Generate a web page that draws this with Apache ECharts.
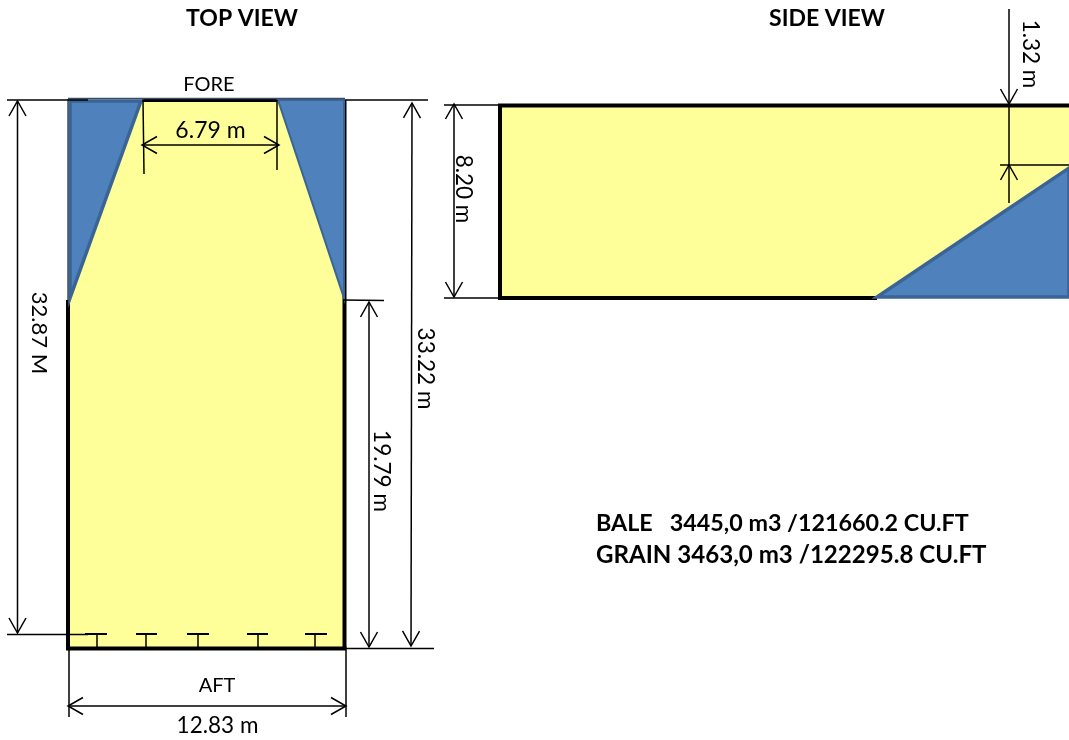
<!DOCTYPE html>
<html>
<head>
<meta charset="utf-8">
<style>html,body{margin:0;padding:0;background:#fff}#c{width:1069px;height:740px}</style>
<script src="https://cdn.jsdelivr.net/npm/echarts@6/dist/echarts.min.js"></script>
</head>
<body>
<div id="c"></div>
<script>
// Plan geometry, in drawing units
const yellowAreas = [
  [[68,100],[345,100],[345,648],[68,648]],
  [[500,106],[1069,106],[1069,298],[500,298]]
];
const blueWedgesThick = [
  [[70,101],[141,101],[70,298]],
  [[877,297],[1069,168],[1069,297]]
];
const blueWedgesThin = [
  [[278,100],[344,100],[344,298]]
];
const heavyLines = [
  [68,300,68,650],[344.5,100,344.5,650],[142,100,277,100],[66,648.5,346.5,648.5],
  [498,105.5,1069,105.5],[500,104,500,300],[498,298,877,298]
];
const wallLines = [[68,98.5,345,98.5],[68,99,68,300]];
const thinLines = [
  [7,100,88,100],[345,100,428,100],[7,634.5,88,634.5],[345,648.5,434,648.5],
  [343,300,384,300.5],[143,100,144,174],[277,100,277,170],[69,650,69,717],[346,650,346,717],
  [444,105,499,105],[444,298,499,298],[1000,165,1069,165],
  [97,634,97,648],[146,634,146,648],[198,634,198,648],[258,634,258,648],[315,634,315,648]
];
const flangeLines = [[85,634,107,634],[136,634,157,634],[187,634,209,634],[247,634,268,634],[305,634,327,634]];
// dimension lines: x1,y1,x2,y2, arrow at start (0/1), arrow at end (0/1)
const dimensions = [
  [17.5,101,17.5,633,1,1],[412,103,411,646,1,1],[369,302,369,647,1,1],
  [142,145,279,145,1,1],[68,706,346,706,1,1],[454,104,454,297,1,1],
  [1009,9,1009,104,0,1],[1009,203,1009,165,0,1],[1009,104,1009,165,0,0]
];
// text, x, y, rotated, bold, size, align
const labels = [
  ['TOP VIEW',242,19,0,1,23,'center'],['SIDE VIEW',827,19,0,1,23,'center'],
  ['FORE',209,85,0,0,20,'center'],['6.79 m',210.5,131,0,0,23,'center'],
  ['AFT',217,686,0,0,20,'center'],['12.83 m',217.5,726,0,0,22.5,'center'],
  ['32.87 M',39,333,1,0,22,'center'],['33.22 m',425,368.5,1,0,22.5,'center'],
  ['19.79 m',381,471,1,0,22.5,'center'],['8.20 m',463,189,1,0,22.5,'center'],['1.32 m',1030,54,1,0,22.5,'center'],
  ['BALE   3445,0 m3 /121660.2 CU.FT',596,523,0,1,23.3,'left'],
  ['GRAIN 3463,0 m3 /122295.8 CU.FT',596,555,0,1,24.1,'left']
];

const FONT = 'Lato, "Noto Sans", sans-serif';
function polySeries(name, data, fill, stroke, width, z){
  return {type:'custom',name,coordinateSystem:'cartesian2d',silent:true,z,clip:true,
    data:data.map((p,i)=>[i]),
    renderItem(params,api){
      const pts=data[api.value(0)].map(p=>api.coord(p));
      return {type:'polygon',shape:{points:pts},style:{fill,stroke,lineWidth:width,lineJoin:'miter'}};
    }};
}
function lineSeries(name,data,color,width,z){
  return {type:'custom',name,coordinateSystem:'cartesian2d',silent:true,z,clip:true,
    data:data,
    renderItem(params,api){
      const a=api.coord([api.value(0),api.value(1)]),b=api.coord([api.value(2),api.value(3)]);
      return {type:'line',shape:{x1:a[0],y1:a[1],x2:b[0],y2:b[1]},style:{stroke:color,lineWidth:width,lineCap:'butt'}};
    }};
}
function head(tip,from){
  const dx=tip[0]-from[0],dy=tip[1]-from[1],l=Math.hypot(dx,dy)||1,ux=dx/l,uy=dy/l,L=15,W=8.5;
  return {type:'polyline',shape:{points:[[tip[0]-ux*L-uy*W,tip[1]-uy*L+ux*W],tip,[tip[0]-ux*L+uy*W,tip[1]-uy*L-ux*W]]},
    style:{fill:'none',stroke:'#000',lineWidth:1.5}};
}
const option={
  animation:false,
  grid:{left:0,right:0,top:0,bottom:0},
  xAxis:{type:'value',min:0,max:1069,show:false},
  yAxis:{type:'value',min:0,max:740,inverse:true,show:false},
  series:[
    polySeries('hold',yellowAreas,'#ffff99','none',0,1),
    lineSeries('heavy',heavyLines,'#000',4,2),
    polySeries('wedge',blueWedgesThick,'#4f81bd','#3a6495',3.5,3),
    polySeries('wedge2',blueWedgesThin,'#4f81bd','#3a6495',2,3),
    lineSeries('wall',wallLines,'#3a4f66',1.5,4),
    lineSeries('thin',thinLines,'#000',1.5,5),
    lineSeries('flange',flangeLines,'#000',2,5),
    {type:'custom',name:'dimensions',coordinateSystem:'cartesian2d',silent:true,z:6,data:dimensions,
      renderItem(params,api){
        const a=api.coord([api.value(0),api.value(1)]),b=api.coord([api.value(2),api.value(3)]);
        const kids=[{type:'line',shape:{x1:a[0],y1:a[1],x2:b[0],y2:b[1]},style:{stroke:'#000',lineWidth:1.5}}];
        if(api.value(4))kids.push(head(a,b));
        if(api.value(5))kids.push(head(b,a));
        return {type:'group',children:kids};
      }},
    {type:'custom',name:'labels',coordinateSystem:'cartesian2d',silent:true,z:7,clip:false,
      data:labels.map((l,i)=>[l[1],l[2],i]),
      renderItem(params,api){
        const l=labels[api.value(2)],p=api.coord([api.value(0),api.value(1)]);
        return {type:'text',x:p[0],y:p[1],rotation:l[3]?-Math.PI/2:0,
          style:{text:l[0],fill:'#000',font:(l[4]?'bold ':'')+l[5]+'px '+FONT,align:l[6],verticalAlign:'middle'}};
      }}
  ]
};
echarts.init(document.getElementById('c'),null,{renderer:'canvas'}).setOption(option);
</script>
</body>
</html>
